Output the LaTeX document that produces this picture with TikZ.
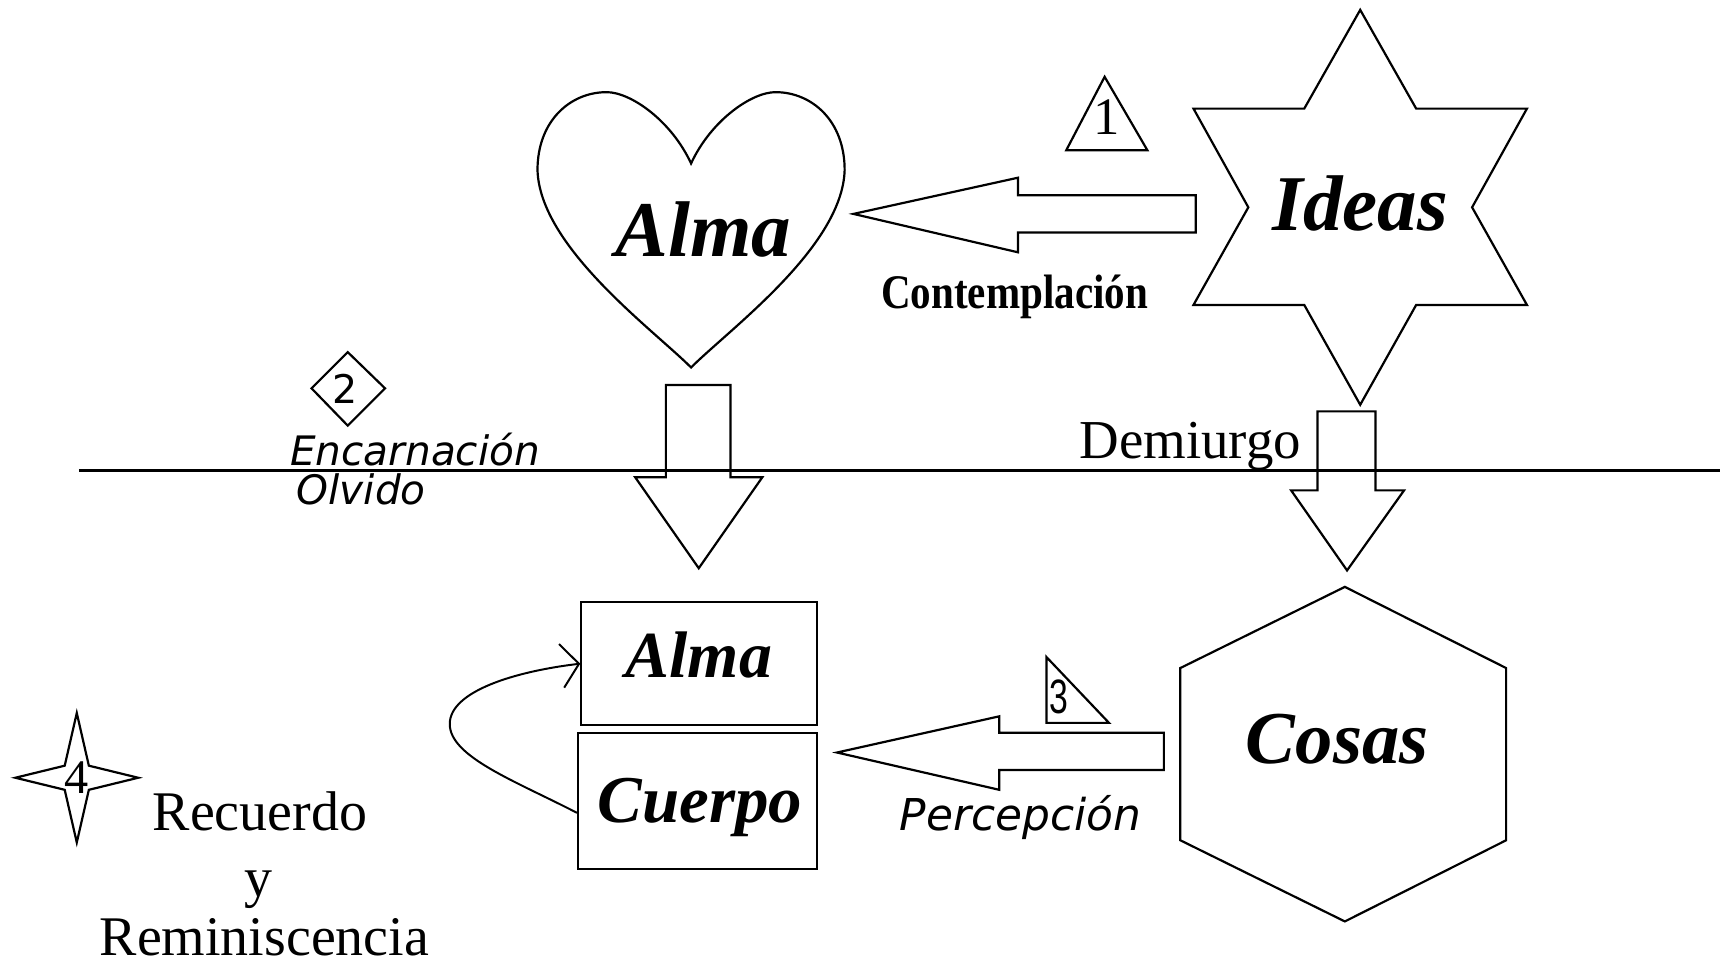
\documentclass[tikz,border=0pt]{standalone}
\usepackage{graphicx}
\usepackage{fontspec}
\setmainfont{Liberation Serif}
\newfontfamily\dejavu{DejaVu Sans}
\newfontfamily\libsans{Liberation Sans}
\usetikzlibrary{calc,arrows.meta}
\begin{document}
\begin{tikzpicture}[x=0.5pt,y=-0.5pt,
  outline/.style={draw=black, line width=1pt, line join=miter},
  tbi/.style={font=\fontsize{#1}{#1}\selectfont\bfseries\itshape, inner sep=0pt, anchor=base},
  serif/.style={font=\fontsize{#1}{#1}\selectfont, inner sep=0pt, anchor=base},
  dvo/.style={font=\fontsize{#1}{#1}\selectfont\dejavu\itshape, inner sep=0pt, anchor=base west},
  boxnode/.style={draw=black, line width=1pt, inner sep=0pt},
  curvearrow/.style={draw=black, line width=0.9pt, -{Straight Barb[length=8pt,width=20pt,line width=0.9pt]}}]
\useasboundingbox (0,0) rectangle (1568,880);
\fill[white] (0,0) rectangle (1568,880);

% horizontal divider
\coordinate (lineL) at (72,429);
\coordinate (lineR) at (1568,429);
\draw[line width=1.1pt] (lineL) -- (lineR);

% heart
\draw[outline] (630,335) .. controls (595,300) and (492,225) .. (490,155)
  .. controls (490,110) and (520,84) .. (553,84)
  .. controls (575,84) and (612,110) .. (630,149)
  .. controls (648,110) and (685,84) .. (707,84)
  .. controls (740,84) and (770,110) .. (770,155)
  .. controls (768,225) and (665,300) .. (630,335) -- cycle;
\node[tbi=36] (almah) at (641,234) {Alma};

% star of David
\draw[outline] (1240,9) -- (1291,99) -- (1392,99) -- (1342,189) -- (1392,278)
  -- (1291,278) -- (1240,369) -- (1189,278) -- (1088,278) -- (1138,189)
  -- (1088,99) -- (1189,99) -- cycle;
\node[tbi=36] (ideas) at (1240,210) {Ideas};

% triangle 1
\draw[outline] (1007,70) -- (1046,137) -- (972,137) -- cycle;
\node[serif=24] (n1) at (1009,123) {1};

% contemplacion arrow
\coordinate (t1) at (778,195);
\draw[outline] (t1) -- (928,162) -- (928,178) -- (1090,178) -- (1090,212)
  -- (928,212) -- (928,230) -- cycle;
\node[font=\fontsize{22}{22}\selectfont\bfseries, inner sep=0pt, anchor=base] (contemp) at (925,281) {\scalebox{0.85}[1]{Contemplación}};

% diamond 2
\draw[outline] (317,321) -- (351,354) -- (317,388) -- (284,354) -- cycle;
\node[font=\fontsize{18}{18}\selectfont\dejavu, inner sep=0pt, anchor=base] (n2) at (315,368) {2};
\node[dvo=18.5] (enc) at (264,424) {Encarnación};
\node[dvo=18.5] (olv) at (270,460) {Olvido};

% down arrows
\coordinate (t2) at (637,518);
\draw[outline] (t2) -- (579,435) -- (607,435) -- (607,351) -- (666,351)
  -- (666,435) -- (695,435) -- cycle;
\coordinate (t3) at (1228,520);
\draw[outline] (t3) -- (1177,447) -- (1201,447) -- (1201,375) -- (1254,375)
  -- (1254,447) -- (1280,447) -- cycle;
\node[serif=25] (dem) at (1085,418) {Demiurgo};

% body boxes
\node[boxnode, minimum width=107.5pt, minimum height=56pt] (almab) at (637.5,605) {};
\node[boxnode, minimum width=109pt, minimum height=62pt] (cuerpo) at (636,730) {};
\node[tbi=30] (almat) at (637,618) {Alma};
\node[tbi=30.5] (cuerpot) at (638,750) {Cuerpo};
\draw[curvearrow] ($(cuerpo.west)+(0,11)$) .. controls (470,712) and (410,690) .. (410,660)
  .. controls (410,630) and (470,612) .. (almab.west);

% hexagon
\draw[outline] (1226,535) -- (1373,609) -- (1373,766) -- (1226,840) -- (1076,766) -- (1076,609) -- cycle;
\node[tbi=34] (cosas) at (1219,696) {Cosas};

% perception arrow
\coordinate (t4) at (763,686);
\draw[outline] (t4) -- (911,653) -- (911,668) -- (1061,668) -- (1061,702)
  -- (911,702) -- (911,720) -- cycle;
\draw[outline] (954,599) -- (1011,659) -- (954,659) -- cycle;
\node[font=\fontsize{22}{22}\selectfont\libsans, inner sep=0pt, anchor=base] (n3) at (965,650) {\scalebox{0.7}[1]{3}};
\node[dvo=20] (perc) at (820,757) {Percepción};

% four-point star
\draw[outline] (70,650) -- (81,698) -- (126,709) -- (81,720) -- (70,768)
  -- (59,720) -- (14,709) -- (59,698) -- cycle;
\node[serif=22] (n4) at (70,723) {4};
\node[serif=25.5] (rec) at (237,757) {Recuerdo};
\node[serif=25.5] (yy) at (236,817) {y};
\node[serif=25.5] (rem) at (241,871) {Reminiscencia};
\end{tikzpicture}
\end{document}
